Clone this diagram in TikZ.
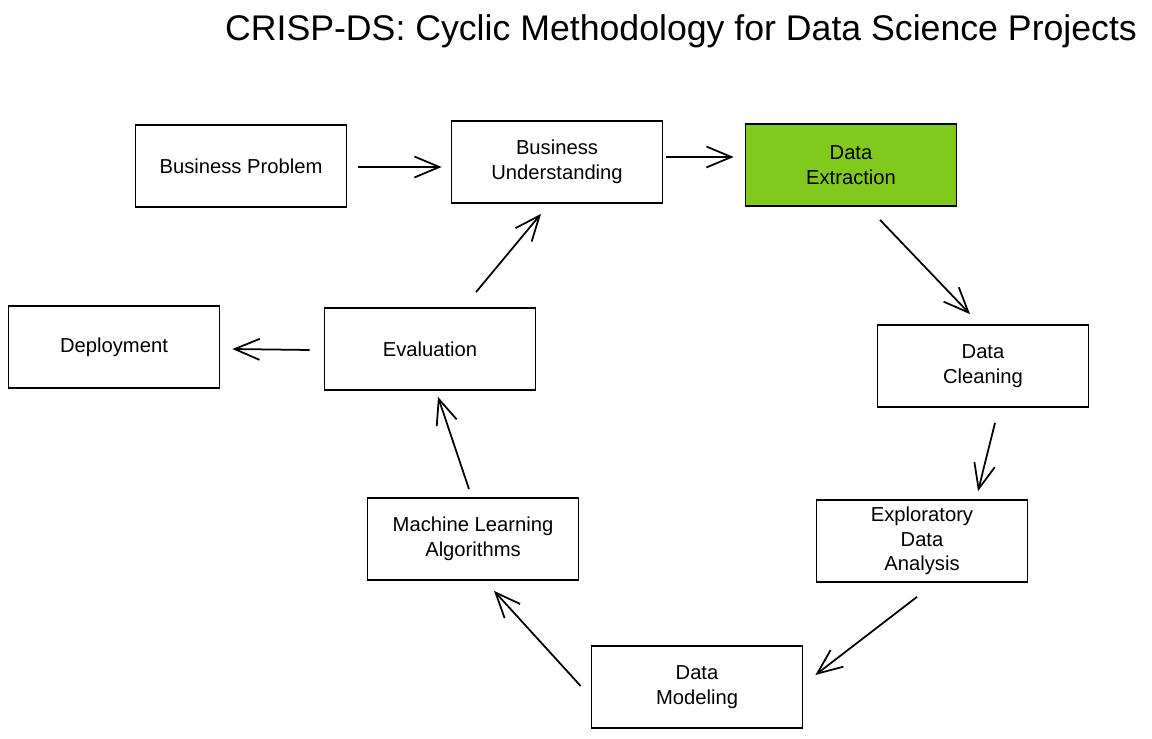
\documentclass[tikz,border=0pt]{standalone}
\usepackage{fontspec}
\setmainfont{Liberation Sans}
\usetikzlibrary{arrows.meta}
\definecolor{sketchgreen}{HTML}{82C91E}
\begin{document}
\begin{tikzpicture}[x=0.02cm, y=-0.02cm,
	box/.style={draw, line width=1pt, minimum width=4.22cm, minimum height=1.64cm, align=center, font=\fontsize{11.5}{14}\selectfont},
	flow/.style={-{Straight Barb[length=0.5cm, width=0.42cm]}, line width=1pt}]
	\useasboundingbox (0,0) rectangle (1152,739);
	\node[font=\fontsize{20.3}{24}\selectfont] (title) at (681,31) {CRISP-DS: Cyclic Methodology for Data Science Projects};

	\node[box] (bp) at (241,166) {Business Problem};
	\node[box] (bu) at (557,162) {Business\\Understanding};
	\node[box, fill=sketchgreen] (de) at (851,165) {Data\\Extraction};
	\node[box] (dc) at (983,366) {Data\\Cleaning};
	\node[box] (eda) at (922,541) {Exploratory\\Data\\Analysis};
	\node[box] (dm) at (697,687) {Data\\Modeling};
	\node[box] (ml) at (473,539) {Machine Learning\\Algorithms};
	\node[box] (ev) at (430,349) {Evaluation};
	\node[box] (dp) at (114,347) {Deployment};

	% the cycle
	\draw[flow] ([shift={(11,1)}]bp.east) -- ([shift={(-9,5)}]bu.west);
	\draw[flow] ([shift={(3,-5)}]bu.east) -- ([shift={(-11,-8)}]de.west);
	\draw[flow] ([shift={(29,13)}]de.south) -- ([shift={(-13,-10)}]dc.north);
	\draw[flow] ([shift={(12,15)}]dc.south) -- ([shift={(56,-8)}]eda.north);
	\draw[flow] ([shift={(-5,14)}]eda.south) -- ([shift={(12,-12)}]dm.east);
	\draw[flow] ([shift={(-10,-1)}]dm.west) -- ([shift={(21,10)}]ml.south);
	\draw[flow] ([shift={(-4,-8)}]ml.north) -- ([shift={(8,6)}]ev.south);
	\draw[flow] ([shift={(46,-15)}]ev.north) -- ([shift={(-16,10)}]bu.south);
	\draw[flow] ([shift={(-14,1)}]ev.west) -- ([shift={(12,2)}]dp.east);
\end{tikzpicture}
\end{document}
